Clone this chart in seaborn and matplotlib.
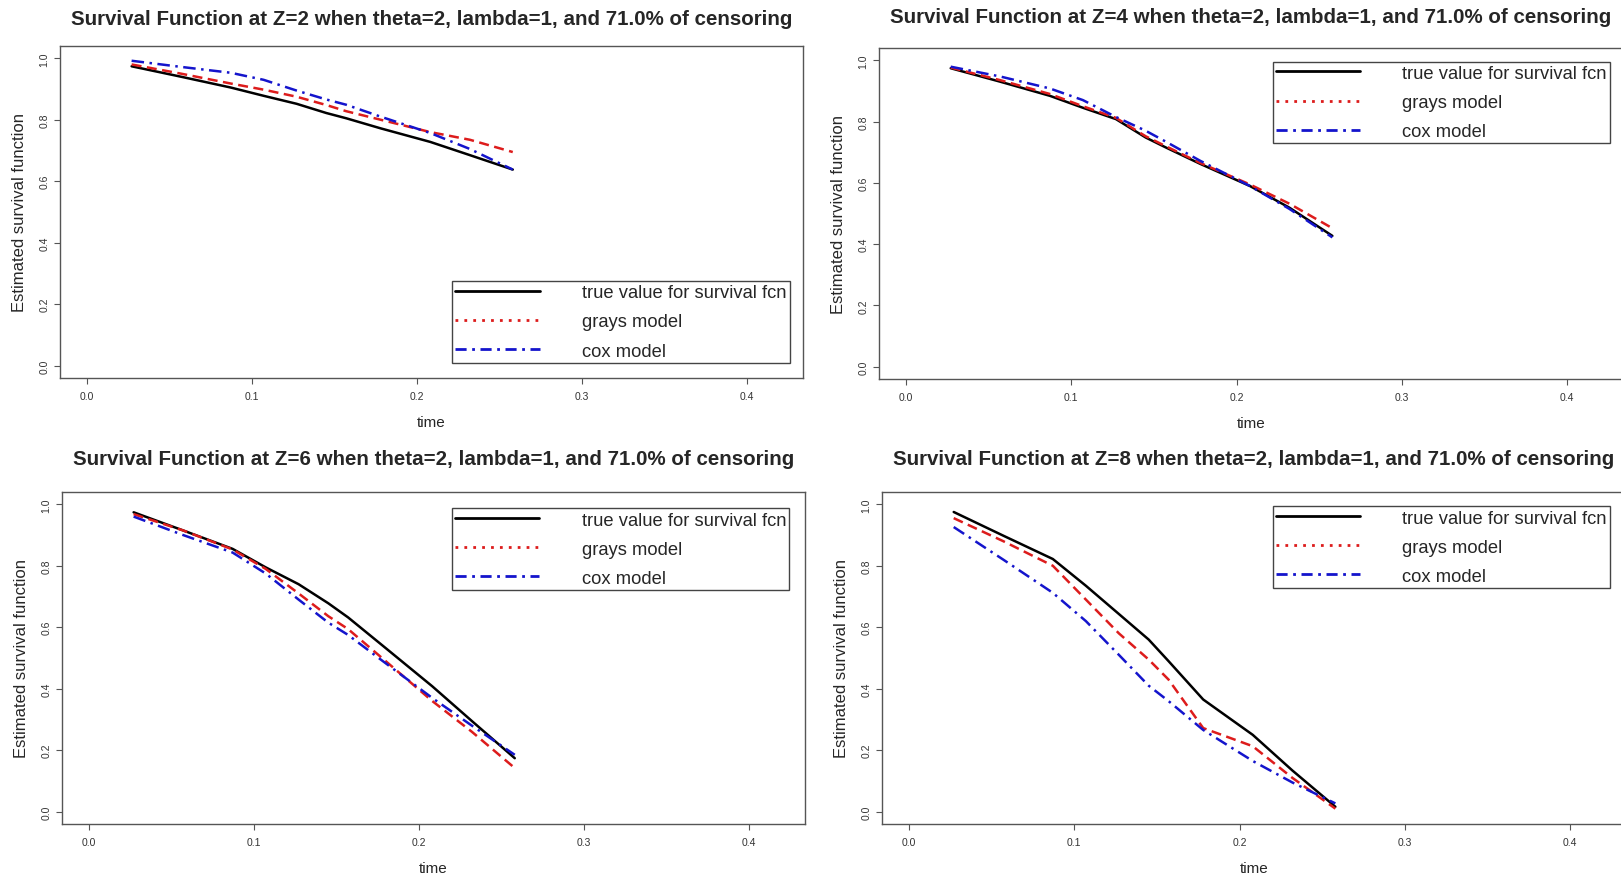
import matplotlib
matplotlib.use("Agg")
import matplotlib.pyplot as plt
import seaborn as sns
import pandas as pd
from matplotlib.lines import Line2D

# ---------------- data ----------------
times = [0.027, 0.057, 0.087, 0.107, 0.127, 0.145, 0.157, 0.178, 0.208, 0.232, 0.258]
z_values = [2, 4, 6, 8]

true_z2 = [0.974, 0.940, 0.905, 0.878, 0.852, 0.822, 0.805, 0.772, 0.728, 0.685, 0.638]
grays_z2 = [0.980, 0.950, 0.918, 0.898, 0.875, 0.848, 0.828, 0.800, 0.760, 0.735, 0.695]
cox_z2 = [0.992, 0.972, 0.953, 0.930, 0.895, 0.866, 0.849, 0.810, 0.757, 0.705, 0.638]

true_z4 = [0.974, 0.930, 0.884, 0.845, 0.808, 0.748, 0.716, 0.662, 0.590, 0.519, 0.427]
grays_z4 = [0.976, 0.935, 0.890, 0.850, 0.812, 0.752, 0.720, 0.665, 0.595, 0.532, 0.452]
cox_z4 = [0.979, 0.947, 0.908, 0.870, 0.815, 0.770, 0.735, 0.672, 0.590, 0.515, 0.422]

true_z6 = [0.974, 0.915, 0.855, 0.795, 0.740, 0.678, 0.632, 0.540, 0.408, 0.295, 0.174]
grays_z6 = [0.968, 0.915, 0.853, 0.790, 0.710, 0.636, 0.594, 0.498, 0.360, 0.260, 0.142]
cox_z6 = [0.960, 0.900, 0.843, 0.775, 0.690, 0.615, 0.575, 0.490, 0.370, 0.280, 0.185]

true_z8 = [0.975, 0.898, 0.822, 0.735, 0.643, 0.560, 0.490, 0.365, 0.250, 0.134, 0.016]
grays_z8 = [0.955, 0.880, 0.800, 0.690, 0.580, 0.495, 0.430, 0.272, 0.213, 0.110, 0.010]
cox_z8 = [0.926, 0.820, 0.712, 0.620, 0.510, 0.410, 0.360, 0.266, 0.165, 0.095, 0.027]

true_by_z = [true_z2, true_z4, true_z6, true_z8]
grays_by_z = [grays_z2, grays_z4, grays_z6, grays_z8]
cox_by_z = [cox_z2, cox_z4, cox_z6, cox_z8]

series_labels = ["true value for survival fcn", "grays model", "cox model"]
x_ticks = [0.0, 0.1, 0.2, 0.3, 0.4]
y_ticks = [0.0, 0.2, 0.4, 0.6, 0.8, 1.0]
title_fmt = "Survival Function at Z={} when theta=2, lambda=1, and 71.0% of censoring"
x_label = "time"
y_label = "Estimated survival function"

# ---------------- styling ----------------
sns.set_style("white")
plt.rcParams["font.family"] = ["Liberation Sans", "DejaVu Sans"]

W, H = 1621, 878
fig = plt.figure(figsize=(W / 100, H / 100), dpi=100)

# axes boxes in pixels: left, right, top, bottom
boxes = [(60, 803, 47, 379), (879, 1623, 49, 380),
         (62, 805, 493, 825), (882, 1626, 493, 825)]
# legend upper-left anchor in axes fraction
legend_anchor = [(0.5276, 0.292), (0.529, 0.959), (0.5246, 0.951), (0.525, 0.957)]
title_pad = [16, 18.5, 20, 20]

colors = {series_labels[0]: "black", series_labels[1]: "#DD1C1C", series_labels[2]: "#1414CC"}
dashes = {series_labels[0]: "", series_labels[1]: (4, 2.2), series_labels[2]: (5, 2.2, 1, 2.2)}
frame_col = "#555555"

for i, z in enumerate(z_values):
    l, r, t, b = boxes[i]
    ax = fig.add_axes([l / W, 1 - b / H, (r - l) / W, (b - t) / H])
    df = pd.concat([
        pd.DataFrame({"time": times, "surv": true_by_z[i], "model": series_labels[0]}),
        pd.DataFrame({"time": times, "surv": grays_by_z[i], "model": series_labels[1]}),
        pd.DataFrame({"time": times, "surv": cox_by_z[i], "model": series_labels[2]}),
    ], ignore_index=True)
    sns.lineplot(data=df, x="time", y="surv", hue="model", style="model",
                 palette=colors, dashes=dashes, estimator=None, sort=True,
                 linewidth=1.8, legend=False, ax=ax)
    ax.set_xlim(-0.0164, 0.4339)
    ax.set_ylim(-0.04, 1.04)
    ax.set_xticks(x_ticks)
    ax.set_xticklabels([f"{v:.1f}" for v in x_ticks])
    ax.set_yticks(y_ticks)
    ax.set_yticklabels([f"{v:.1f}" for v in y_ticks], rotation=90, va="center")
    ax.tick_params(axis="both", which="major", direction="out", length=4.3, width=0.8,
                   color=frame_col, labelcolor="#333333", labelsize=7.5,
                   bottom=True, left=True)
    ax.tick_params(axis="x", pad=5)
    ax.tick_params(axis="y", pad=3.5)
    for s in ax.spines.values():
        s.set_visible(True)
        s.set_color(frame_col)
        s.set_linewidth(1.0)
    ax.set_title(title_fmt.format(z), fontsize=14.8, fontweight="bold", pad=title_pad[i])
    ax.set_xlabel(x_label, fontsize=11, labelpad=10)
    ax.set_ylabel(y_label, fontsize=12, labelpad=9)

    handles = [
        Line2D([], [], color=colors[series_labels[0]], lw=2.0, ls="-"),
        Line2D([], [], color=colors[series_labels[1]], lw=2.0, ls=(0, (1, 2.2))),
        Line2D([], [], color=colors[series_labels[2]], lw=2.0, ls=(0, (4, 2, 1, 2))),
    ]
    leg = ax.legend(handles, series_labels, loc="upper left",
                    bbox_to_anchor=legend_anchor[i], borderaxespad=0,
                    fontsize=13.2, frameon=True, fancybox=False, framealpha=1,
                    edgecolor="#444444", borderpad=0.18, labelspacing=0.66,
                    handlelength=4.6, handletextpad=2.3)
    leg.get_frame().set_linewidth(1.0)

fig.savefig("out.png", dpi=100)
